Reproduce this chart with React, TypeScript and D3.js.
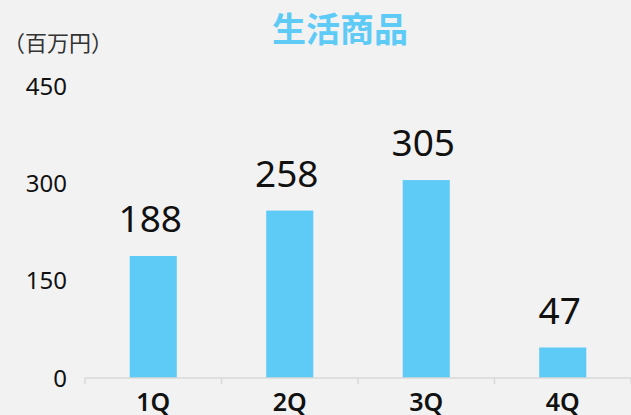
import React from "react";
import * as d3 from "d3";

const categories = ["1Q", "2Q", "3Q", "4Q"];
const values = [188, 258, 305, 47];
const yTicks = [0, 150, 300, 450];
const title = "生活商品";
const unitLabel = "（百万円）";

const W = 631;
const H = 415;
const left = 85;
const right = 631;
const y0px = 378;
const yTop = 86;

export default function App() {
  const x = d3.scaleBand<string>().domain(categories).range([left, right]).padding(0);
  const y = d3.scaleLinear().domain([0, 450]).range([y0px, yTop]);
  const bw = x.bandwidth() * 0.345;
  const font = "'Noto Sans', 'Noto Sans CJK JP', sans-serif";
  const ticksX = [...categories.map((c) => x(c) as number), right];
  return (
    <svg
      width={W}
      height={H}
      style={{ position: "absolute", left: 0, top: 0, background: "#F2F2F2" }}
    >
      <rect x={0} y={0} width={W} height={H} fill="#F2F2F2" />
      <text
        x={340}
        y={42}
        textAnchor="middle"
        fill="#5ECBF6"
        fontFamily="'Noto Sans CJK JP', sans-serif"
        fontWeight={700}
        fontSize={34}
      >
        {title}
      </text>
      <text
        x={3}
        y={51}
        fill="#333"
        fontFamily="'Noto Sans CJK JP', sans-serif"
        fontSize={22}
      >
        {unitLabel}
      </text>
      {yTicks.map((t) => (
        <text
          key={t}
          x={67}
          y={y(t)}
          dy="0.36em"
          textAnchor="end"
          fill="#111"
          fontFamily={font}
          fontSize={24}
        >
          {t}
        </text>
      ))}
      {categories.map((c, i) => {
        const cx = (x(c) as number) + x.bandwidth() / 2;
        return (
          <g key={c}>
            <rect
              x={cx - bw / 2}
              y={y(values[i])}
              width={bw}
              height={y0px - y(values[i])}
              fill="#5ECAF6"
            />
            <text
              x={cx - 3}
              y={y(values[i]) - 24}
              textAnchor="middle"
              fill="#111"
              fontFamily={font}
              fontSize={37}
            >
              {values[i]}
            </text>
            <text
              x={cx}
              y={411}
              textAnchor="middle"
              fill="#111"
              fontFamily={font}
              fontWeight={600}
              fontSize={25}
            >
              {c}
            </text>
          </g>
        );
      })}
      <line x1={left} x2={right} y1={y0px} y2={y0px} stroke="#D9D9D9" strokeWidth={1.5} />
      {ticksX.map((tx, i) => (
        <line key={i} x1={tx} x2={tx} y1={y0px} y2={y0px + 6} stroke="#D9D9D9" strokeWidth={1.5} />
      ))}
    </svg>
  );
}
